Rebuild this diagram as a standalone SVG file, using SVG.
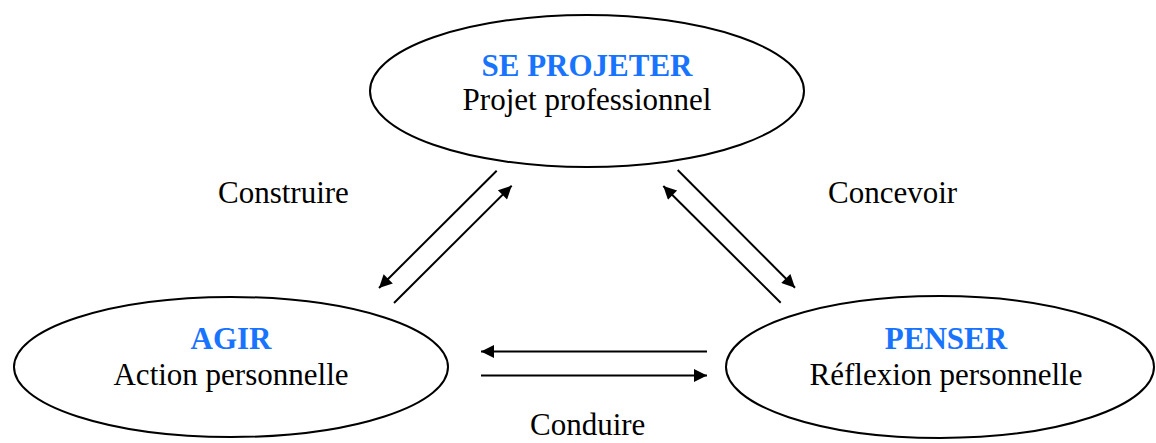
<svg xmlns="http://www.w3.org/2000/svg" width="1156" height="443" viewBox="0 0 1156 443">
<style>
.node{fill:#fff;stroke:#000;stroke-width:2}
.t{font-family:"Liberation Serif","Times New Roman",serif;font-size:31px;fill:#000;text-anchor:middle}
.h{font-weight:bold;fill:#1874FF}
.lbl{font-family:"Liberation Serif","Times New Roman",serif;font-size:31px;fill:#000}
.c{stroke:#000;stroke-width:2;fill:none;marker-end:url(#ah)}
</style>
<defs>
<marker id="ah" viewBox="0 0 10 10" refX="10" refY="5" markerUnits="userSpaceOnUse" markerWidth="17" markerHeight="13" orient="auto">
<path d="M0,0 L10,5 L0,10 z" fill="#000"/>
</marker>
</defs>
<g id="projeter">
<ellipse class="node" cx="587" cy="91" rx="217" ry="76"/>
<text class="t h" x="587" y="76">SE PROJETER</text>
<text class="t" x="587" y="110">Projet professionnel</text>
</g>
<g id="agir">
<ellipse class="node" cx="231" cy="367" rx="217" ry="70"/>
<text class="t h" x="231" y="349">AGIR</text>
<text class="t" x="231" y="385">Action personnelle</text>
</g>
<g id="penser">
<ellipse class="node" cx="940" cy="367" rx="214" ry="71"/>
<text class="t h" x="946" y="349">PENSER</text>
<text class="t" x="946" y="385">Réflexion personnelle</text>
</g>
<g id="connectors">
<line class="c" x1="496.7" y1="170.7" x2="379" y2="288"/>
<line class="c" x1="394" y1="303" x2="511.7" y2="185.7"/>
<line class="c" x1="677.7" y1="170" x2="795" y2="287.7"/>
<line class="c" x1="780.7" y1="302.7" x2="663.3" y2="186"/>
<line class="c" x1="707" y1="351.5" x2="481" y2="351.5"/>
<line class="c" x1="481" y1="375.5" x2="707" y2="375.5"/>
<text class="lbl" x="218" y="203">Construire</text>
<text class="lbl" x="828" y="203">Concevoir</text>
<text class="lbl" x="530" y="435">Conduire</text>
</g>
</svg>
